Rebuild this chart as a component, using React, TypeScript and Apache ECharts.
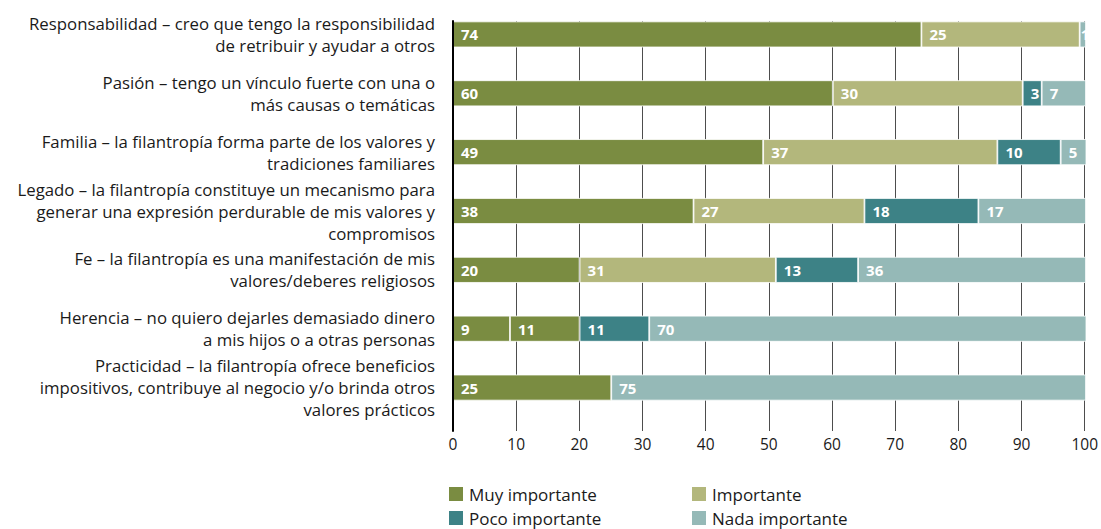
import React, { useEffect, useRef } from "react";
import * as echarts from "echarts";

const categories = [
  "Responsabilidad – creo que tengo la responsibilidad\nde retribuir y ayudar a otros",
  "Pasión – tengo un vínculo fuerte con una o\nmás causas o temáticas",
  "Familia – la filantropía forma parte de los valores y\ntradiciones familiares",
  "Legado – la filantropía constituye un mecanismo para\ngenerar una expresión perdurable de mis valores y\ncompromisos",
  "Fe – la filantropía es una manifestación de mis\nvalores/deberes religiosos",
  "Herencia – no quiero dejarles demasiado dinero\na mis hijos o a otras personas",
  "Practicidad – la filantropía ofrece beneficios\nimpositivos, contribuye al negocio y/o brinda otros\nvalores prácticos",
];

const seriesNames = ["Muy importante", "Importante", "Poco importante", "Nada importante"];
const muyImportante = [74, 60, 49, 38, 20, 9, 25];
const importante = [25, 30, 37, 27, 31, 11, null];
const pocoImportante = [null, 3, 10, 18, 13, 11, null];
const nadaImportante = [1, 7, 5, 17, 36, 70, 75];
const xTicks = [0, 10, 20, 30, 40, 50, 60, 70, 80, 90, 100];

const colors = ["#7a8c41", "#b3b77c", "#3d8286", "#95b9b7"];
const FONT = "'Open Sans', 'Noto Sans', sans-serif";

export default function App() {
  const ref = useRef<HTMLDivElement>(null);
  useEffect(() => {
    if (!ref.current) return;
    const chart = echarts.init(ref.current, undefined, { renderer: "svg" });
    const values = [muyImportante, importante, pocoImportante, nadaImportante];
    const series = values.map((arr, si) => ({
      name: seriesNames[si],
      type: "bar",
      stack: "total",
      xAxisIndex: 0,
      yAxisIndex: 0,
      barWidth: 26,
      z: 2,
      itemStyle: { color: colors[si], borderColor: "#ffffff", borderWidth: 0.8 },
      label: {
        show: true,
        position: "insideLeft",
        distance: 8,
        color: "#ffffff",
        fontWeight: "bold",
        fontSize: 15,
        fontFamily: FONT,
        formatter: (p: any) => (p.value == null ? "" : String(p.value)),
      },
      data: arr.map((v, i) => {
        if (si === 1 && i === 5) return { value: v, itemStyle: { color: colors[0] } };
        if (v != null && v < 3) return { value: v, label: { distance: 1 } };
        return v;
      }),
    }));
    const legendPos = [
      { left: 447, top: 485 },
      { left: 690, top: 485 },
      { left: 447, top: 509 },
      { left: 690, top: 509 },
    ];
    const option: any = {
      animation: false,
      color: colors,
      grid: [
        { left: 453, right: 15, top: 5, bottom: 112, containLabel: false },
        { left: 453, right: 15, top: 21, bottom: 98, containLabel: false },
      ],
      legend: legendPos.map((p, i) => ({
        ...p,
        padding: 0,
        itemWidth: 16,
        itemHeight: 16,
        itemGap: 5,
        icon: "rect",
        selectedMode: false,
        data: [seriesNames[i]],
        textStyle: { fontSize: 17, color: "#1a1a1a", fontFamily: FONT },
      })),
      xAxis: [
        { gridIndex: 0, type: "value", min: 0, max: 100, show: false },
        {
          gridIndex: 1,
          type: "value",
          min: 0,
          max: 100,
          interval: 10,
          axisLine: { show: false },
          axisTick: { show: false },
          splitLine: { show: true, lineStyle: { color: "#4d4d4d", width: 1 } },
          axisLabel: {
            margin: 5,
            fontSize: 15.5,
            color: "#1a1a1a",
            fontFamily: FONT,
            formatter: (v: number) => (xTicks.includes(v) ? String(v) : ""),
          },
        },
      ],
      yAxis: [
        {
          gridIndex: 0,
          type: "category",
          inverse: true,
          data: categories,
          axisLine: { show: false },
          axisTick: { show: false },
          splitLine: { show: false },
          axisLabel: {
            margin: 18,
            fontSize: 16.8,
            lineHeight: 22,
            color: "#1a1a1a",
            fontFamily: FONT,
            align: "right",
          },
        },
        {
          gridIndex: 1,
          type: "value",
          min: 0,
          max: 1,
          z: 10,
          axisLine: { show: true, lineStyle: { color: "#000000", width: 2 } },
          axisTick: { show: false },
          axisLabel: { show: false },
          splitLine: { show: false },
        },
      ],
      series,
    };
    chart.setOption(option);
    return () => chart.dispose();
  }, []);
  return <div ref={ref} style={{ width: 1101, height: 529, position: "absolute", left: 0, top: 0 }} />;
}
